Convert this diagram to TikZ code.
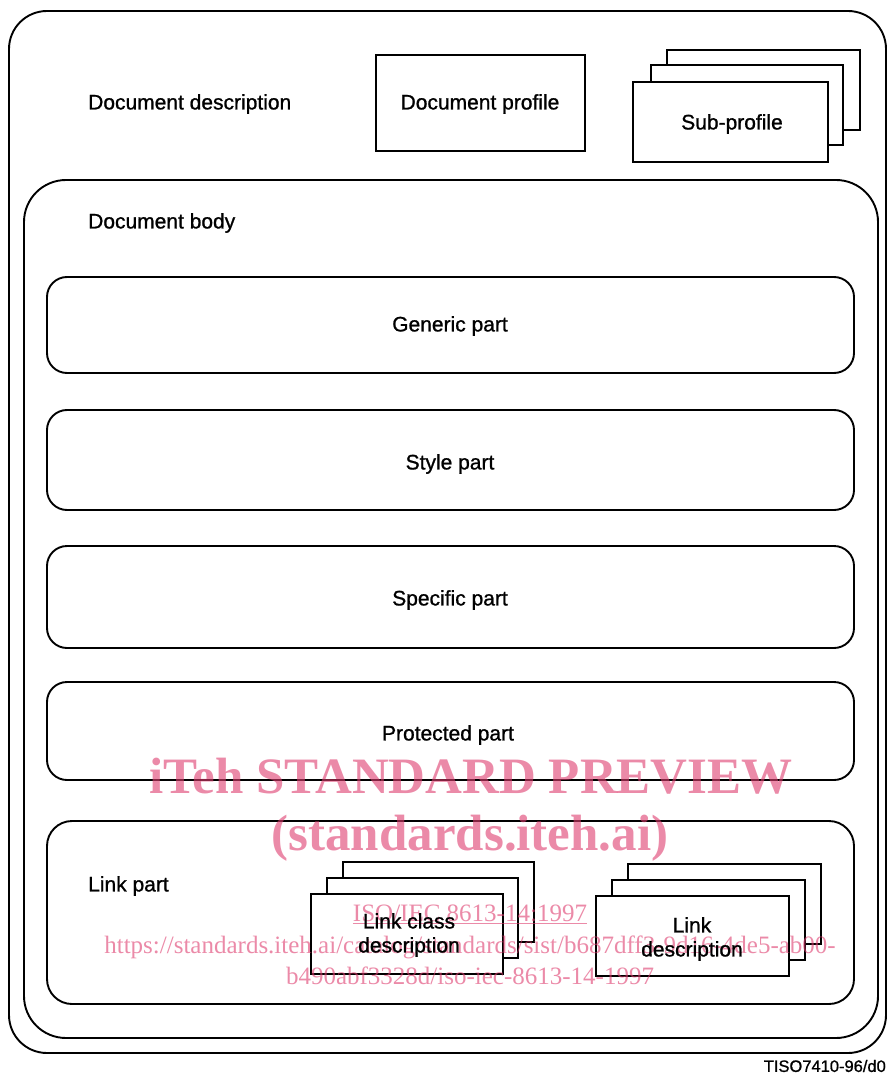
\documentclass[tikz,border=0pt]{standalone}
\usepackage{fontspec}
\setmainfont{Liberation Sans}[FakeBold=1.5]
\newfontfamily\lblfont{Liberation Sans}[FakeBold=1.0]
\newfontfamily\wmfont{Liberation Serif}
\definecolor{wm}{RGB}{222,60,110}
\begin{document}
\begin{tikzpicture}[x=1pt,y=-1pt,
  frame/.style={draw, line width=1.9pt, rounded corners=#1, anchor=north west, inner sep=0pt, outer sep=0pt},
  box/.style={draw, line width=1.8pt, fill=white, anchor=north west, inner sep=0pt, outer sep=0pt},
  lbl/.style={font=\lblfont\fontsize{21}{24}\selectfont, inner sep=0pt, align=center},
  wmtext/.style={text=wm, text opacity=0.6, inner sep=0pt, anchor=base}]
\useasboundingbox (0,0) rectangle (887,1075);
% frames
\node[frame=38, minimum width=877pt, minimum height=1042pt] (outer) at (9,11) {};
\node[frame=42, minimum width=854pt, minimum height=858pt] (body) at (24,180) {};
\node[frame=20, minimum width=807pt, minimum height=96pt] (generic) at (47,277) {};
\node[frame=20, minimum width=807pt, minimum height=100pt] (style) at (47,410) {};
\node[frame=20, minimum width=807pt, minimum height=102pt] (specific) at (47,546) {};
\node[frame=20, minimum width=807pt, minimum height=98pt] (protected) at (47,682) {};
\node[frame=25, minimum width=807pt, minimum height=183pt] (link) at (47,821) {};
% document profile
\node[box, minimum width=209pt, minimum height=96pt] (docprof) at (376,55) {};
% sub-profile stack
\node[box, minimum width=193pt, minimum height=80pt] (subC) at (667,50) {};
\node[box, minimum width=192pt, minimum height=80pt] (subB) at (651,65) {};
\node[box, minimum width=195pt, minimum height=80pt] (subA) at (633,82) {};
% link class description stack
\node[box, minimum width=191pt, minimum height=80pt] (lcdC) at (343,862) {};
\node[box, minimum width=191pt, minimum height=80pt] (lcdB) at (327,878) {};
\node[box, minimum width=192pt, minimum height=80pt] (lcdA) at (311,894) {};
% link description stack
\node[box, minimum width=193pt, minimum height=80pt] (ldC) at (628,864) {};
\node[box, minimum width=193pt, minimum height=80pt] (ldB) at (612,880) {};
\node[box, minimum width=193pt, minimum height=80pt] (ldA) at (596,896) {};
% watermark
\node[wmtext, font=\wmfont\bfseries\fontsize{51}{56}\selectfont] (wm1) at (471,793) {iTeh STANDARD PREVIEW};
\node[wmtext, font=\wmfont\bfseries\fontsize{51}{56}\selectfont] (wm2) at (470,850) {(standards.iteh.ai)};
\node[wmtext, font=\wmfont\fontsize{25}{28}\selectfont] (wm3) at (470,921) {\underline{ISO/IEC 8613-14:1997}};
\node[wmtext, font=\wmfont\fontsize{25}{28}\selectfont] (wm4) at (470,953) {https://standards.iteh.ai/catalog/standards/sist/b687dff3-9d16-4de5-ab00-};
\node[wmtext, font=\wmfont\fontsize{25}{28}\selectfont] (wm5) at (470,984) {b490abf3328d/iso-iec-8613-14-1997};
% labels
\node[lbl, anchor=west] (tdd) at (88,104) {Document description};
\node[lbl] (tdp) at (480,104) {Document profile};
\node[lbl] (tsp) at (732,124) {Sub-profile};
\node[lbl, anchor=west] (tdb) at (88,223) {Document body};
\node[lbl] (tgp) at (450,326) {Generic part};
\node[lbl] (tst) at (450,464) {Style part};
\node[lbl] (tsc) at (450,600) {Specific part};
\node[lbl] (tpp) at (448,735) {Protected part};
\node[lbl, anchor=west] (tlp) at (88,886) {Link part};
\node[lbl] (tlcd) at (409,935) {Link class\\description};
\node[lbl] (tld) at (692,939) {Link\\description};
\node[font=\lblfont\fontsize{16.5}{19}\selectfont, inner sep=0pt, anchor=east] (tiso) at (886,1066) {TISO7410-96/d0};
\end{tikzpicture}
\end{document}
